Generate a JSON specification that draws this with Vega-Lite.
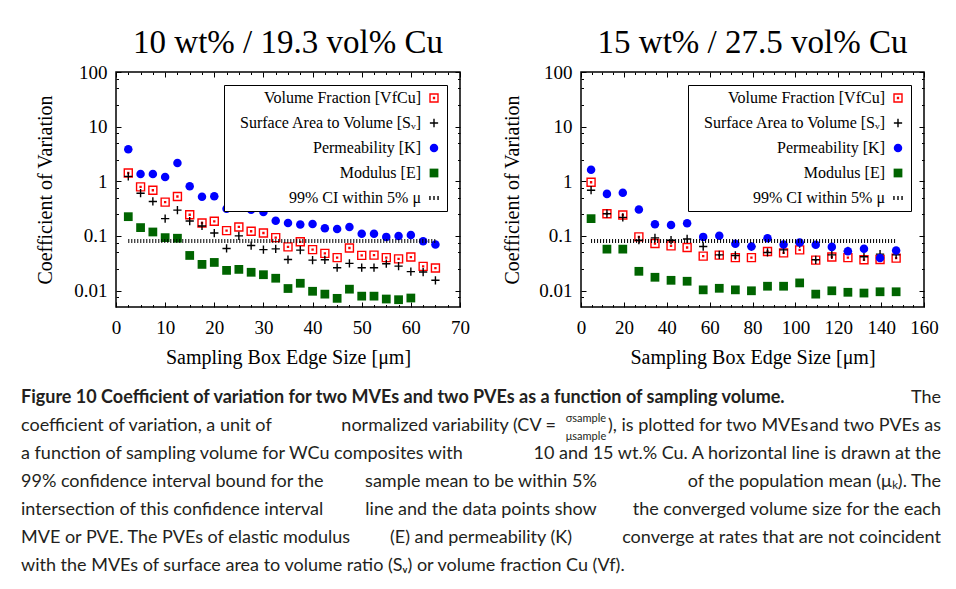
{
  "$schema": "https://vega.github.io/schema/vega-lite/v6.json",
  "background": "white",
  "padding": {"left": 20, "top": 26, "right": 0, "bottom": 0},
  "bounds": "flush",
  "spacing": 331,
  "vconcat": [
    {
      "bounds": "flush",
      "spacing": 121,
      "resolve": {
        "scale": {"x": "independent", "y": "independent", "shape": "independent", "fill": "independent", "stroke": "independent", "size": "independent"},
        "legend": {"shape": "independent", "fill": "independent", "stroke": "independent", "size": "independent"}
      },
      "hconcat": [
        {
          "width": 344,
          "height": 235,
          "title": {"text": "10 wt% / 19.3 vol% Cu"},
          "layer": [
            {
              "data": {"name": "left"},
              "mark": {"type": "point", "opacity": 1, "strokeWidth": 1.4},
              "encoding": {
                "x": {"field": "x", "type": "quantitative", "scale": {"domain": [0, 70], "nice": false, "zero": false},
                  "axis": {"orient": "bottom", "values": [0, 10, 20, 30, 40, 50, 60, 70], "ticks": false, "labelPadding": 11, "title": "Sampling Box Edge Size [μm]", "titlePadding": 10}},
                "y": {"field": "cv", "type": "quantitative", "scale": {"type": "log", "domain": [0.005, 100], "nice": false},
                  "axis": {"orient": "left", "values": [0.01, 0.1, 1, 10, 100], "format": "~g", "ticks": false, "labelPadding": 9, "title": "Coefficient of Variation", "titlePadding": 18}},
                "shape": {"field": "s", "type": "nominal", "scale": {"domain": ["VF", "Sv", "K", "E", "CI"], "range": ["M-1,-1L1,-1L1,1L-1,1Z M-0.12,-0.12L0.12,-0.12L0.12,0.12L-0.12,0.12Z", "M-1,0L1,0M0,-1L0,1", "circle", "square", "M-0.9,-0.45L-0.9,0.45M0,-0.45L0,0.45M0.9,-0.45L0.9,0.45"]},
                  "legend": {"title": null, "labelExpr": "datum.label=='VF'?'Volume Fraction [VfCu]':datum.label=='Sv'?'Surface Area to Volume [Sᵥ]':datum.label=='K'?'Permeability [K]':datum.label=='E'?'Modulus [E]':'99% CI within 5% μ'"}},
                "fill": {"field": "s", "type": "nominal", "scale": {"domain": ["VF", "Sv", "K", "E", "CI"], "range": ["transparent", "transparent", "#0000ff", "#006400", "transparent"]},
                  "legend": {"title": null, "labelExpr": "datum.label=='VF'?'Volume Fraction [VfCu]':datum.label=='Sv'?'Surface Area to Volume [Sᵥ]':datum.label=='K'?'Permeability [K]':datum.label=='E'?'Modulus [E]':'99% CI within 5% μ'"}},
                "stroke": {"field": "s", "type": "nominal", "scale": {"domain": ["VF", "Sv", "K", "E", "CI"], "range": ["#ff0000", "#000000", "transparent", "transparent", "#000000"]},
                  "legend": {"title": null, "labelExpr": "datum.label=='VF'?'Volume Fraction [VfCu]':datum.label=='Sv'?'Surface Area to Volume [Sᵥ]':datum.label=='K'?'Permeability [K]':datum.label=='E'?'Modulus [E]':'99% CI within 5% μ'"}},
                "size": {"field": "s", "type": "nominal", "scale": {"domain": ["VF", "Sv", "K", "E", "CI"], "range": [64, 81, 30, 42, 64]},
                  "legend": {"title": null, "labelExpr": "datum.label=='VF'?'Volume Fraction [VfCu]':datum.label=='Sv'?'Surface Area to Volume [Sᵥ]':datum.label=='K'?'Permeability [K]':datum.label=='E'?'Modulus [E]':'99% CI within 5% μ'"}}
              }
            },
            {
              "data": {"name": "leftCI"},
              "mark": {"type": "line", "color": "black", "strokeWidth": 4, "strokeDash": [1, 2]},
              "encoding": {
                "x": {"field": "x", "type": "quantitative", "scale": {"domain": [0, 70], "nice": false, "zero": false},
                  "axis": {"orient": "bottom", "values": [0, 10, 20, 30, 40, 50, 60, 70], "labels": false, "title": null, "tickSize": -5}},
                "y": {"field": "cv", "type": "quantitative", "scale": {"type": "log", "domain": [0.005, 100], "nice": false},
                  "axis": {"orient": "left", "values": [0.01, 0.1, 1, 10, 100], "labels": false, "title": null, "tickSize": -5}}
              }
            },
            {
              "data": {"name": "leftCI"},
              "mark": {"type": "point", "opacity": 0},
              "encoding": {
                "x": {"field": "x", "type": "quantitative", "scale": {"domain": [0, 70], "nice": false, "zero": false},
                  "axis": {"orient": "bottom", "values": [2.5, 5, 7.5, 12.5, 15, 17.5, 22.5, 25, 27.5, 32.5, 35, 37.5, 42.5, 45, 47.5, 52.5, 55, 57.5, 62.5, 65, 67.5], "labels": false, "title": null, "tickSize": -2.5}},
                "y": {"field": "cv", "type": "quantitative", "scale": {"type": "log", "domain": [0.005, 100], "nice": false},
                  "axis": {"orient": "left", "values": [0.0075, 0.025, 0.05, 0.075, 0.25, 0.5, 0.75, 2.5, 5, 7.5, 25, 50, 75], "labels": false, "title": null, "tickSize": -2.5}}
              }
            },
            {
              "data": {"name": "leftCI"},
              "mark": {"type": "point", "opacity": 0},
              "encoding": {
                "x": {"field": "x", "type": "quantitative", "scale": {"domain": [0, 70], "nice": false, "zero": false},
                  "axis": {"orient": "top", "values": [0, 10, 20, 30, 40, 50, 60, 70], "labels": false, "title": null, "tickSize": -5}},
                "y": {"field": "cv", "type": "quantitative", "scale": {"type": "log", "domain": [0.005, 100], "nice": false},
                  "axis": {"orient": "right", "values": [0.01, 0.1, 1, 10, 100], "labels": false, "title": null, "tickSize": -5}}
              }
            },
            {
              "data": {"name": "leftCI"},
              "mark": {"type": "point", "opacity": 0},
              "encoding": {
                "x": {"field": "x", "type": "quantitative", "scale": {"domain": [0, 70], "nice": false, "zero": false},
                  "axis": {"orient": "top", "values": [2.5, 5, 7.5, 12.5, 15, 17.5, 22.5, 25, 27.5, 32.5, 35, 37.5, 42.5, 45, 47.5, 52.5, 55, 57.5, 62.5, 65, 67.5], "labels": false, "title": null, "tickSize": -2.5}},
                "y": {"field": "cv", "type": "quantitative", "scale": {"type": "log", "domain": [0.005, 100], "nice": false},
                  "axis": {"orient": "right", "values": [0.0075, 0.025, 0.05, 0.075, 0.25, 0.5, 0.75, 2.5, 5, 7.5, 25, 50, 75], "labels": false, "title": null, "tickSize": -2.5}}
              }
            }
          ],
          "resolve": {"axis": {"x": "independent", "y": "independent"}}
        },
        {
          "width": 343,
          "height": 235,
          "title": {"text": "15 wt% / 27.5 vol% Cu"},
          "layer": [
            {
              "data": {"name": "right"},
              "mark": {"type": "point", "opacity": 1, "strokeWidth": 1.4},
              "encoding": {
                "x": {"field": "x", "type": "quantitative", "scale": {"domain": [0, 160], "nice": false, "zero": false},
                  "axis": {"orient": "bottom", "values": [0, 20, 40, 60, 80, 100, 120, 140, 160], "ticks": false, "labelPadding": 11, "title": "Sampling Box Edge Size [μm]", "titlePadding": 10}},
                "y": {"field": "cv", "type": "quantitative", "scale": {"type": "log", "domain": [0.005, 100], "nice": false},
                  "axis": {"orient": "left", "values": [0.01, 0.1, 1, 10, 100], "format": "~g", "ticks": false, "labelPadding": 9, "title": "Coefficient of Variation", "titlePadding": 16}},
                "shape": {"field": "s", "type": "nominal", "scale": {"domain": ["VF", "Sv", "K", "E", "CI"], "range": ["M-1,-1L1,-1L1,1L-1,1Z M-0.12,-0.12L0.12,-0.12L0.12,0.12L-0.12,0.12Z", "M-1,0L1,0M0,-1L0,1", "circle", "square", "M-0.9,-0.45L-0.9,0.45M0,-0.45L0,0.45M0.9,-0.45L0.9,0.45"]},
                  "legend": {"title": null, "labelExpr": "datum.label=='VF'?'Volume Fraction [VfCu]':datum.label=='Sv'?'Surface Area to Volume [Sᵥ]':datum.label=='K'?'Permeability [K]':datum.label=='E'?'Modulus [E]':'99% CI within 5% μ'"}},
                "fill": {"field": "s", "type": "nominal", "scale": {"domain": ["VF", "Sv", "K", "E", "CI"], "range": ["transparent", "transparent", "#0000ff", "#006400", "transparent"]},
                  "legend": {"title": null, "labelExpr": "datum.label=='VF'?'Volume Fraction [VfCu]':datum.label=='Sv'?'Surface Area to Volume [Sᵥ]':datum.label=='K'?'Permeability [K]':datum.label=='E'?'Modulus [E]':'99% CI within 5% μ'"}},
                "stroke": {"field": "s", "type": "nominal", "scale": {"domain": ["VF", "Sv", "K", "E", "CI"], "range": ["#ff0000", "#000000", "transparent", "transparent", "#000000"]},
                  "legend": {"title": null, "labelExpr": "datum.label=='VF'?'Volume Fraction [VfCu]':datum.label=='Sv'?'Surface Area to Volume [Sᵥ]':datum.label=='K'?'Permeability [K]':datum.label=='E'?'Modulus [E]':'99% CI within 5% μ'"}},
                "size": {"field": "s", "type": "nominal", "scale": {"domain": ["VF", "Sv", "K", "E", "CI"], "range": [64, 81, 30, 42, 64]},
                  "legend": {"title": null, "labelExpr": "datum.label=='VF'?'Volume Fraction [VfCu]':datum.label=='Sv'?'Surface Area to Volume [Sᵥ]':datum.label=='K'?'Permeability [K]':datum.label=='E'?'Modulus [E]':'99% CI within 5% μ'"}}
              }
            },
            {
              "data": {"name": "rightCI"},
              "mark": {"type": "line", "color": "black", "strokeWidth": 4, "strokeDash": [1, 2]},
              "encoding": {
                "x": {"field": "x", "type": "quantitative", "scale": {"domain": [0, 160], "nice": false, "zero": false},
                  "axis": {"orient": "bottom", "values": [0, 20, 40, 60, 80, 100, 120, 140, 160], "labels": false, "title": null, "tickSize": -5}},
                "y": {"field": "cv", "type": "quantitative", "scale": {"type": "log", "domain": [0.005, 100], "nice": false},
                  "axis": {"orient": "left", "values": [0.01, 0.1, 1, 10, 100], "labels": false, "title": null, "tickSize": -5}}
              }
            },
            {
              "data": {"name": "rightCI"},
              "mark": {"type": "point", "opacity": 0},
              "encoding": {
                "x": {"field": "x", "type": "quantitative", "scale": {"domain": [0, 160], "nice": false, "zero": false},
                  "axis": {"orient": "bottom", "values": [5, 10, 15, 25, 30, 35, 45, 50, 55, 65, 70, 75, 85, 90, 95, 105, 110, 115, 125, 130, 135, 145, 150, 155], "labels": false, "title": null, "tickSize": -2.5}},
                "y": {"field": "cv", "type": "quantitative", "scale": {"type": "log", "domain": [0.005, 100], "nice": false},
                  "axis": {"orient": "left", "values": [0.0075, 0.025, 0.05, 0.075, 0.25, 0.5, 0.75, 2.5, 5, 7.5, 25, 50, 75], "labels": false, "title": null, "tickSize": -2.5}}
              }
            },
            {
              "data": {"name": "rightCI"},
              "mark": {"type": "point", "opacity": 0},
              "encoding": {
                "x": {"field": "x", "type": "quantitative", "scale": {"domain": [0, 160], "nice": false, "zero": false},
                  "axis": {"orient": "top", "values": [0, 20, 40, 60, 80, 100, 120, 140, 160], "labels": false, "title": null, "tickSize": -5}},
                "y": {"field": "cv", "type": "quantitative", "scale": {"type": "log", "domain": [0.005, 100], "nice": false},
                  "axis": {"orient": "right", "values": [0.01, 0.1, 1, 10, 100], "labels": false, "title": null, "tickSize": -5}}
              }
            },
            {
              "data": {"name": "rightCI"},
              "mark": {"type": "point", "opacity": 0},
              "encoding": {
                "x": {"field": "x", "type": "quantitative", "scale": {"domain": [0, 160], "nice": false, "zero": false},
                  "axis": {"orient": "top", "values": [5, 10, 15, 25, 30, 35, 45, 50, 55, 65, 70, 75, 85, 90, 95, 105, 110, 115, 125, 130, 135, 145, 150, 155], "labels": false, "title": null, "tickSize": -2.5}},
                "y": {"field": "cv", "type": "quantitative", "scale": {"type": "log", "domain": [0.005, 100], "nice": false},
                  "axis": {"orient": "right", "values": [0.0075, 0.025, 0.05, 0.075, 0.25, 0.5, 0.75, 2.5, 5, 7.5, 25, 50, 75], "labels": false, "title": null, "tickSize": -2.5}}
              }
            }
          ],
          "resolve": {"axis": {"x": "independent", "y": "independent"}}
        }
      ]
    },
    {
      "width": 808,
      "height": 168,
      "view": {"stroke": null},
      "data": {"name": "caption"},
      "encoding": {
        "y": {"field": "l", "type": "ordinal", "scale": {"type": "point", "padding": 0}, "axis": null}
      },
      "layer": [
        {
          "transform": [{"filter": "datum.g == 'head'"}],
          "mark": {"type": "text", "align": "left", "baseline": "alphabetic", "font": "Lato", "fontSize": 18, "fontWeight": "bold", "color": "#231f20"},
          "encoding": {"x": {"datum": 0, "type": "quantitative", "scale": {"domain": [0.103261, 0.981522], "nice": false, "zero": false}, "axis": null}, "text": {"field": "t"}}
        },
        {
          "transform": [{"filter": "datum.g == 'start'"}],
          "mark": {"type": "text", "align": "left", "baseline": "alphabetic", "font": "Lato", "fontSize": 18, "color": "#231f20"},
          "encoding": {"x": {"datum": 0, "type": "quantitative", "scale": {"domain": [0.103261, 0.981522], "nice": false, "zero": false}, "axis": null}, "text": {"field": "t"}}
        },
        {
          "transform": [{"filter": "datum.g == 'mid'"}],
          "mark": {"type": "text", "align": "center", "baseline": "alphabetic", "font": "Lato", "fontSize": 18, "color": "#231f20"},
          "encoding": {"x": {"datum": 0.5, "type": "quantitative", "scale": {"domain": [0.103261, 0.981522], "nice": false, "zero": false}, "axis": null}, "text": {"field": "t"}}
        },
        {
          "transform": [{"filter": "datum.g == 'pre'"}],
          "mark": {"type": "text", "align": "right", "baseline": "alphabetic", "font": "Lato", "fontSize": 18, "color": "#231f20"},
          "encoding": {"x": {"datum": 0.5815, "type": "quantitative", "scale": {"domain": [0.103261, 0.981522], "nice": false, "zero": false}, "axis": null}, "text": {"field": "t"}}
        },
        {
          "transform": [{"filter": "datum.g == 'post'"}],
          "mark": {"type": "text", "align": "left", "baseline": "alphabetic", "font": "Lato", "fontSize": 18, "color": "#231f20"},
          "encoding": {"x": {"datum": 0.6381, "type": "quantitative", "scale": {"domain": [0.103261, 0.981522], "nice": false, "zero": false}, "axis": null}, "text": {"field": "t"}}
        },
        {
          "transform": [{"filter": "datum.g == 'end'"}],
          "mark": {"type": "text", "align": "right", "baseline": "alphabetic", "font": "Lato", "fontSize": 18, "color": "#231f20"},
          "encoding": {"x": {"datum": 1, "type": "quantitative", "scale": {"domain": [0.103261, 0.981522], "nice": false, "zero": false}, "axis": null}, "text": {"field": "t"}}
        },
        {
          "transform": [{"filter": "datum.g == 'num'"}],
          "mark": {"type": "text", "align": "center", "baseline": "alphabetic", "font": "Lato", "fontSize": 11, "dy": -9, "color": "#231f20"},
          "encoding": {"x": {"datum": 0.6141, "type": "quantitative", "scale": {"domain": [0.103261, 0.981522], "nice": false, "zero": false}, "axis": null}, "text": {"field": "t"}}
        },
        {
          "transform": [{"filter": "datum.g == 'den'"}],
          "mark": {"type": "text", "align": "center", "baseline": "alphabetic", "font": "Lato", "fontSize": 11, "dy": 9, "color": "#231f20"},
          "encoding": {"x": {"datum": 0.6141, "type": "quantitative", "scale": {"domain": [0.103261, 0.981522], "nice": false, "zero": false}, "axis": null}, "text": {"field": "t"}}
        }
      ]
    }
  ],
  "datasets": {
    "left": [
      {"s": "VF", "x": 2.5, "cv": 1.42}, {"s": "VF", "x": 5, "cv": 0.79}, {"s": "VF", "x": 7.5, "cv": 0.686}, {"s": "VF", "x": 10, "cv": 0.415},
      {"s": "VF", "x": 12.5, "cv": 0.526}, {"s": "VF", "x": 15, "cv": 0.244}, {"s": "VF", "x": 17.5, "cv": 0.172}, {"s": "VF", "x": 20, "cv": 0.185},
      {"s": "VF", "x": 22.5, "cv": 0.125}, {"s": "VF", "x": 25, "cv": 0.146}, {"s": "VF", "x": 27.5, "cv": 0.122}, {"s": "VF", "x": 30, "cv": 0.113},
      {"s": "VF", "x": 32.5, "cv": 0.093}, {"s": "VF", "x": 35, "cv": 0.063}, {"s": "VF", "x": 37.5, "cv": 0.078}, {"s": "VF", "x": 40, "cv": 0.056},
      {"s": "VF", "x": 42.5, "cv": 0.048}, {"s": "VF", "x": 45, "cv": 0.04}, {"s": "VF", "x": 47.5, "cv": 0.06}, {"s": "VF", "x": 50, "cv": 0.044},
      {"s": "VF", "x": 52.5, "cv": 0.0445}, {"s": "VF", "x": 55, "cv": 0.04}, {"s": "VF", "x": 57.5, "cv": 0.038}, {"s": "VF", "x": 60, "cv": 0.041},
      {"s": "VF", "x": 62.5, "cv": 0.0277}, {"s": "VF", "x": 65, "cv": 0.0258},
      {"s": "Sv", "x": 2.5, "cv": 1.23}, {"s": "Sv", "x": 5, "cv": 0.605}, {"s": "Sv", "x": 7.5, "cv": 0.427}, {"s": "Sv", "x": 10, "cv": 0.207},
      {"s": "Sv", "x": 12.5, "cv": 0.297}, {"s": "Sv", "x": 15, "cv": 0.187}, {"s": "Sv", "x": 17.5, "cv": 0.152}, {"s": "Sv", "x": 20, "cv": 0.113},
      {"s": "Sv", "x": 22.5, "cv": 0.0589}, {"s": "Sv", "x": 25, "cv": 0.1}, {"s": "Sv", "x": 27.5, "cv": 0.0667}, {"s": "Sv", "x": 30, "cv": 0.056},
      {"s": "Sv", "x": 32.5, "cv": 0.058}, {"s": "Sv", "x": 35, "cv": 0.037}, {"s": "Sv", "x": 37.5, "cv": 0.055}, {"s": "Sv", "x": 40, "cv": 0.036},
      {"s": "Sv", "x": 42.5, "cv": 0.0366}, {"s": "Sv", "x": 45, "cv": 0.0262}, {"s": "Sv", "x": 47.5, "cv": 0.0314}, {"s": "Sv", "x": 50, "cv": 0.0262},
      {"s": "Sv", "x": 52.5, "cv": 0.0262}, {"s": "Sv", "x": 55, "cv": 0.031}, {"s": "Sv", "x": 57.5, "cv": 0.028}, {"s": "Sv", "x": 60, "cv": 0.0222},
      {"s": "Sv", "x": 62.5, "cv": 0.0218}, {"s": "Sv", "x": 65, "cv": 0.0154},
      {"s": "K", "x": 2.5, "cv": 3.87}, {"s": "K", "x": 5, "cv": 1.36}, {"s": "K", "x": 7.5, "cv": 1.36}, {"s": "K", "x": 10, "cv": 1.2},
      {"s": "K", "x": 12.5, "cv": 2.15}, {"s": "K", "x": 15, "cv": 0.81}, {"s": "K", "x": 17.5, "cv": 0.52}, {"s": "K", "x": 20, "cv": 0.53},
      {"s": "K", "x": 22.5, "cv": 0.314}, {"s": "K", "x": 25, "cv": 0.398}, {"s": "K", "x": 27.5, "cv": 0.301}, {"s": "K", "x": 30, "cv": 0.273},
      {"s": "K", "x": 32.5, "cv": 0.19}, {"s": "K", "x": 35, "cv": 0.172}, {"s": "K", "x": 37.5, "cv": 0.161}, {"s": "K", "x": 40, "cv": 0.165},
      {"s": "K", "x": 42.5, "cv": 0.138}, {"s": "K", "x": 45, "cv": 0.134}, {"s": "K", "x": 47.5, "cv": 0.146}, {"s": "K", "x": 50, "cv": 0.11},
      {"s": "K", "x": 52.5, "cv": 0.11}, {"s": "K", "x": 55, "cv": 0.096}, {"s": "K", "x": 57.5, "cv": 0.1}, {"s": "K", "x": 60, "cv": 0.104},
      {"s": "K", "x": 62.5, "cv": 0.08}, {"s": "K", "x": 65, "cv": 0.0696},
      {"s": "E", "x": 2.5, "cv": 0.225}, {"s": "E", "x": 5, "cv": 0.142}, {"s": "E", "x": 7.5, "cv": 0.118}, {"s": "E", "x": 10, "cv": 0.093},
      {"s": "E", "x": 12.5, "cv": 0.0907}, {"s": "E", "x": 15, "cv": 0.0439}, {"s": "E", "x": 17.5, "cv": 0.0301}, {"s": "E", "x": 20, "cv": 0.0327},
      {"s": "E", "x": 22.5, "cv": 0.0234}, {"s": "E", "x": 25, "cv": 0.0244}, {"s": "E", "x": 27.5, "cv": 0.0216}, {"s": "E", "x": 30, "cv": 0.0195},
      {"s": "E", "x": 32.5, "cv": 0.0168}, {"s": "E", "x": 35, "cv": 0.0109}, {"s": "E", "x": 37.5, "cv": 0.0136}, {"s": "E", "x": 40, "cv": 0.0097},
      {"s": "E", "x": 42.5, "cv": 0.0086}, {"s": "E", "x": 45, "cv": 0.0072}, {"s": "E", "x": 47.5, "cv": 0.0106}, {"s": "E", "x": 50, "cv": 0.0079},
      {"s": "E", "x": 52.5, "cv": 0.0079}, {"s": "E", "x": 55, "cv": 0.007}, {"s": "E", "x": 57.5, "cv": 0.0068}, {"s": "E", "x": 60, "cv": 0.0073}
    ],
    "right": [
      {"s": "VF", "x": 4.7, "cv": 0.96}, {"s": "VF", "x": 12.1, "cv": 0.255}, {"s": "VF", "x": 19.5, "cv": 0.241}, {"s": "VF", "x": 27, "cv": 0.096},
      {"s": "VF", "x": 34.5, "cv": 0.0726}, {"s": "VF", "x": 42, "cv": 0.0658}, {"s": "VF", "x": 49.5, "cv": 0.0614}, {"s": "VF", "x": 57, "cv": 0.0427},
      {"s": "VF", "x": 64.5, "cv": 0.0445}, {"s": "VF", "x": 72, "cv": 0.04}, {"s": "VF", "x": 79.5, "cv": 0.04}, {"s": "VF", "x": 87, "cv": 0.0519},
      {"s": "VF", "x": 94.5, "cv": 0.049}, {"s": "VF", "x": 102, "cv": 0.0556}, {"s": "VF", "x": 109.5, "cv": 0.0361}, {"s": "VF", "x": 117, "cv": 0.041},
      {"s": "VF", "x": 124.5, "cv": 0.04}, {"s": "VF", "x": 132, "cv": 0.0366}, {"s": "VF", "x": 139.5, "cv": 0.0371}, {"s": "VF", "x": 147, "cv": 0.0393},
      {"s": "Sv", "x": 4.7, "cv": 0.686}, {"s": "Sv", "x": 12.1, "cv": 0.255}, {"s": "Sv", "x": 19.5, "cv": 0.218}, {"s": "Sv", "x": 27, "cv": 0.0834},
      {"s": "Sv", "x": 34.5, "cv": 0.092}, {"s": "Sv", "x": 42, "cv": 0.0834}, {"s": "Sv", "x": 49.5, "cv": 0.088}, {"s": "Sv", "x": 57, "cv": 0.064},
      {"s": "Sv", "x": 64.5, "cv": 0.045}, {"s": "Sv", "x": 72, "cv": 0.0439}, {"s": "Sv", "x": 79.5, "cv": 0.064}, {"s": "Sv", "x": 87, "cv": 0.0498},
      {"s": "Sv", "x": 94.5, "cv": 0.0556}, {"s": "Sv", "x": 102, "cv": 0.0726}, {"s": "Sv", "x": 109.5, "cv": 0.0366}, {"s": "Sv", "x": 117, "cv": 0.045},
      {"s": "Sv", "x": 124.5, "cv": 0.053}, {"s": "Sv", "x": 132, "cv": 0.0415}, {"s": "Sv", "x": 139.5, "cv": 0.0464}, {"s": "Sv", "x": 147, "cv": 0.045},
      {"s": "K", "x": 4.7, "cv": 1.63}, {"s": "K", "x": 12.1, "cv": 0.588}, {"s": "K", "x": 19.5, "cv": 0.614}, {"s": "K", "x": 27, "cv": 0.305},
      {"s": "K", "x": 34.5, "cv": 0.163}, {"s": "K", "x": 42, "cv": 0.158}, {"s": "K", "x": 49.5, "cv": 0.17}, {"s": "K", "x": 57, "cv": 0.096},
      {"s": "K", "x": 64.5, "cv": 0.101}, {"s": "K", "x": 72, "cv": 0.0716}, {"s": "K", "x": 79.5, "cv": 0.064}, {"s": "K", "x": 87, "cv": 0.0907},
      {"s": "K", "x": 94.5, "cv": 0.0696}, {"s": "K", "x": 102, "cv": 0.0757}, {"s": "K", "x": 109.5, "cv": 0.0686}, {"s": "K", "x": 117, "cv": 0.063},
      {"s": "K", "x": 124.5, "cv": 0.0526}, {"s": "K", "x": 132, "cv": 0.058}, {"s": "K", "x": 139.5, "cv": 0.0393}, {"s": "K", "x": 147, "cv": 0.054},
      {"s": "E", "x": 4.7, "cv": 0.207}, {"s": "E", "x": 12.1, "cv": 0.0573}, {"s": "E", "x": 19.5, "cv": 0.0573}, {"s": "E", "x": 27, "cv": 0.0225},
      {"s": "E", "x": 34.5, "cv": 0.0175}, {"s": "E", "x": 42, "cv": 0.0154}, {"s": "E", "x": 49.5, "cv": 0.0148}, {"s": "E", "x": 57, "cv": 0.0103},
      {"s": "E", "x": 64.5, "cv": 0.011}, {"s": "E", "x": 72, "cv": 0.0103}, {"s": "E", "x": 79.5, "cv": 0.0099}, {"s": "E", "x": 87, "cv": 0.012},
      {"s": "E", "x": 94.5, "cv": 0.012}, {"s": "E", "x": 102, "cv": 0.0138}, {"s": "E", "x": 109.5, "cv": 0.0086}, {"s": "E", "x": 117, "cv": 0.0099},
      {"s": "E", "x": 124.5, "cv": 0.0093}, {"s": "E", "x": 132, "cv": 0.009}, {"s": "E", "x": 139.5, "cv": 0.0095}, {"s": "E", "x": 147, "cv": 0.0095}
    ],
    "leftCI": [{"x": 2.5, "cv": 0.081}, {"x": 65, "cv": 0.081}],
    "rightCI": [{"x": 4.7, "cv": 0.081}, {"x": 147, "cv": 0.081}],
    "caption": [
      {"l": 1, "g": "head", "t": "Figure 10 Coefficient of variation for two MVEs and two PVEs as a function of sampling volume."},
      {"l": 1, "g": "end", "t": "The"},
      {"l": 2, "g": "start", "t": "coefficient of variation, a unit of"},
      {"l": 2, "g": "pre", "t": "normalized variability (CV ="},
      {"l": 2, "g": "num", "t": "σsample"},
      {"l": 2, "g": "den", "t": "μsample"},
      {"l": 2, "g": "post", "t": "), is plotted for two MVEs"},
      {"l": 2, "g": "end", "t": "and two PVEs as"},
      {"l": 3, "g": "start", "t": "a function of sampling volume for WCu composites with"},
      {"l": 3, "g": "end", "t": "10 and 15 wt.% Cu. A horizontal line is drawn at the"},
      {"l": 4, "g": "start", "t": "99% confidence interval bound for the"},
      {"l": 4, "g": "mid", "t": "sample mean to be within 5%"},
      {"l": 4, "g": "end", "t": "of the population mean (μₖ). The"},
      {"l": 5, "g": "start", "t": "intersection of this confidence interval"},
      {"l": 5, "g": "mid", "t": "line and the data points show"},
      {"l": 5, "g": "end", "t": "the converged volume size for the each"},
      {"l": 6, "g": "start", "t": "MVE or PVE. The PVEs of elastic modulus"},
      {"l": 6, "g": "mid", "t": "(E) and permeability (K)"},
      {"l": 6, "g": "end", "t": "converge at rates that are not coincident"},
      {"l": 7, "g": "start", "t": "with the MVEs of surface area to volume ratio (Sᵥ) or volume fraction Cu (Vf)."}
    ]
  },
  "config": {
    "font": "Liberation Serif",
    "view": {"stroke": "black", "strokeWidth": 1.5},
    "axis": {"domain": false, "grid": false, "labelFlush": false, "labelOverlap": false, "labelFont": "Liberation Serif", "labelFontSize": 19, "labelColor": "black", "titleFont": "Liberation Serif", "titleFontSize": 20, "titleFontWeight": "normal", "titleColor": "black", "tickColor": "black", "tickWidth": 1},
    "legend": {"orient": "top-right", "offset": 13, "padding": 5, "strokeColor": "black", "fillColor": "white", "labelFont": "Liberation Serif", "labelFontSize": 16, "labelColor": "black", "labelAlign": "right", "labelOffset": -21, "symbolOffset": 197, "labelLimit": 400, "rowPadding": 9, "symbolStrokeWidth": 1.4},
    "title": {"font": "Liberation Serif", "fontSize": 33, "fontWeight": "normal", "color": "black", "baseline": "alphabetic", "offset": 3, "anchor": "middle"}
  }
}
